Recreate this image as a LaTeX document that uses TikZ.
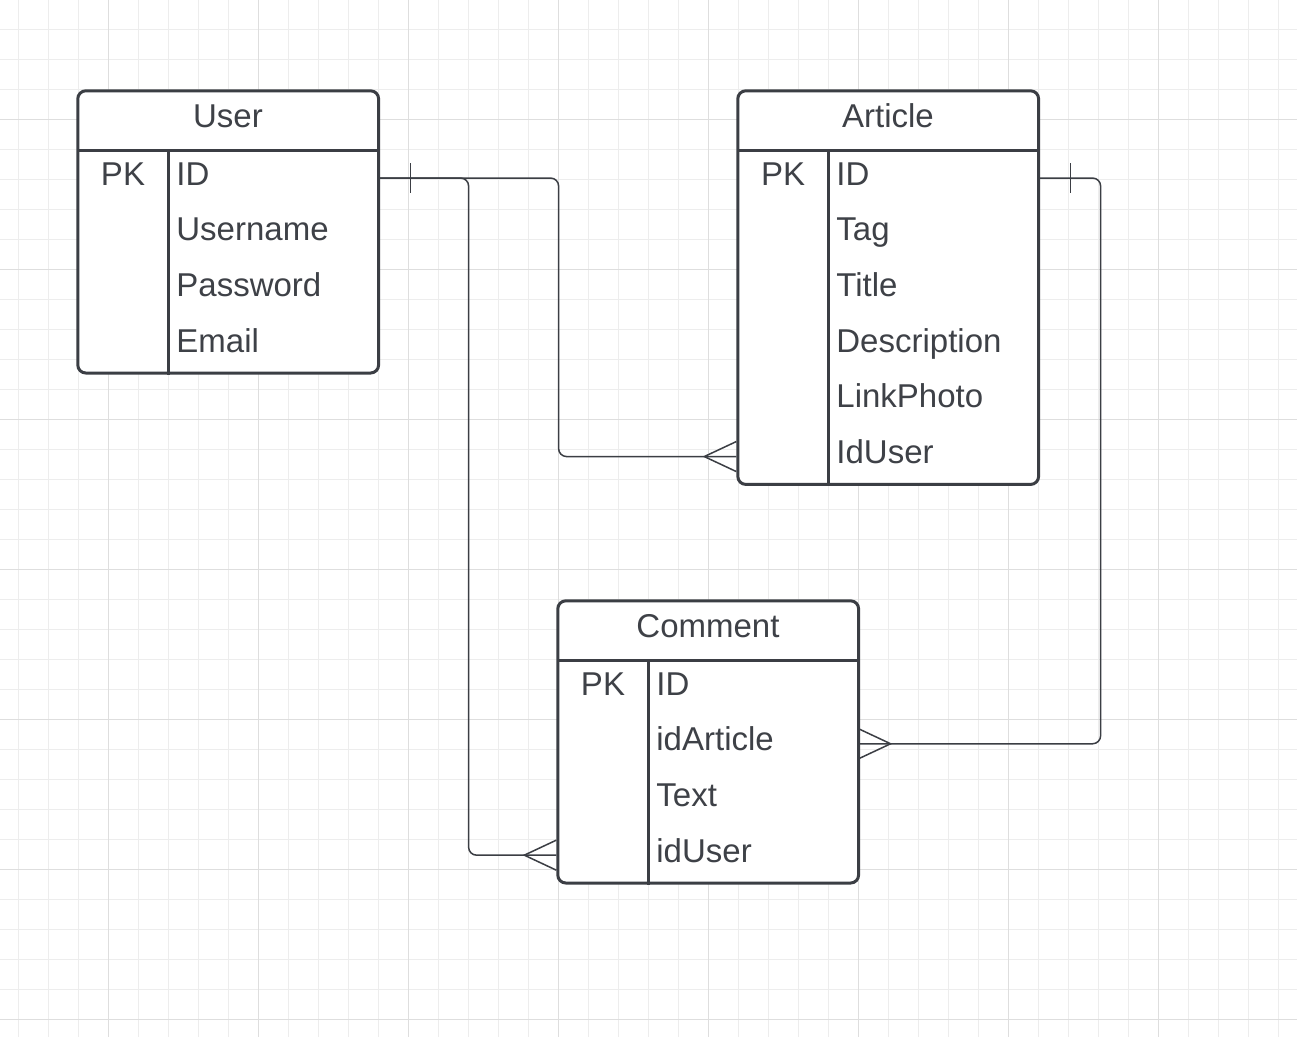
\documentclass[tikz,border=0pt]{standalone}
\usepackage{fontspec}
\setmainfont{Liberation Sans}
\usetikzlibrary{positioning,fit,backgrounds}
\definecolor{erline}{RGB}{59,62,68}
\definecolor{ertext}{RGB}{62,65,71}
\definecolor{gridminor}{RGB}{237,237,237}
\definecolor{gridmajor}{RGB}{222,222,222}

\begin{document}
\begin{tikzpicture}[
  x=1pt,y=-1pt,
  node distance=0pt,
  every node/.style={text=ertext,font=\fontsize{33}{40}\selectfont},
  tablehead/.style={minimum width=300pt,minimum height=59pt,inner sep=0pt,text height=22pt,text depth=8pt},
  keycell/.style={minimum width=90pt,minimum height=55.3pt,inner sep=0pt,text height=22pt,text depth=8pt},
  field/.style={minimum height=55.3pt,text width=194pt,inner xsep=8pt,inner ysep=0pt,align=left,text height=22pt,text depth=8pt},
  tableframe/.style={draw=erline,fill=white,line width=3pt,rounded corners=8pt,inner sep=0pt},
  rule/.style={draw=erline,line width=3pt},
  relation/.style={draw=erline,line width=1.5pt}
]
  \useasboundingbox (0,0) rectangle (1297,1037);

  % User table
  \node[tablehead] (user) at (228,120.5) {User};
  \node[keycell,below right=of user.south west] (userpk) {PK};
  \node[field,right=of userpk] (userid) {ID};
  \node[field,below=of userid] (username) {Username};
  \node[field,below=of username] (userpass) {Password};
  \node[field,below=of userpass] (usermail) {Email};

  % Article table
  \node[tablehead] (article) at (888,120.5) {Article};
  \node[keycell,below right=of article.south west] (artpk) {PK};
  \node[field,right=of artpk] (artid) {ID};
  \node[field,below=of artid] (arttag) {Tag};
  \node[field,below=of arttag] (arttitle) {Title};
  \node[field,below=of arttitle] (artdesc) {Description};
  \node[field,below=of artdesc] (artphoto) {LinkPhoto};
  \node[field,below=of artphoto] (artuser) {IdUser};

  % Comment table
  \node[tablehead] (comment) at (708,630.5) {Comment};
  \node[keycell,below right=of comment.south west] (compk) {PK};
  \node[field,right=of compk] (comid) {ID};
  \node[field,below=of comid] (comart) {idArticle};
  \node[field,below=of comart] (comtext) {Text};
  \node[field,below=of comtext] (comuser) {idUser};

  \begin{scope}[on background layer]
    \fill[white] (0,0) rectangle (1297,1037);
    \foreach \gx in {18,48,...,1288}
      \draw[gridminor,line width=1pt] (\gx,0) -- (\gx,1037);
    \foreach \gy in {29,59,...,1030}
      \draw[gridminor,line width=1pt] (0,\gy) -- (1297,\gy);
    \foreach \gx in {108,258,...,1290}
      \draw[gridmajor,line width=1pt] (\gx,0) -- (\gx,1037);
    \foreach \gy in {119,269,...,1030}
      \draw[gridmajor,line width=1pt] (0,\gy) -- (1297,\gy);
    \node[tableframe,fit=(user)(usermail)] (userframe) {};
    \node[tableframe,fit=(article)(artuser)] (artframe) {};
    \node[tableframe,fit=(comment)(comuser)] (comframe) {};
  \end{scope}

  \draw[rule] (user.south west) -- (user.south east);
  \draw[rule] (userpk.north east) -- (userpk.north east |- userframe.south);
  \draw[rule] (article.south west) -- (article.south east);
  \draw[rule] (artpk.north east) -- (artpk.north east |- artframe.south);
  \draw[rule] (comment.south west) -- (comment.south east);
  \draw[rule] (compk.north east) -- (compk.north east |- comframe.south);

  \coordinate (artin) at (artuser.west -| artframe.west);
  \coordinate (comin) at (comuser.west -| comframe.west);

  % relations
  \draw[relation,rounded corners=8pt] (userid.east) -- ++(180,0) |- (artin);
  \draw[relation,rounded corners=8pt] (userid.east) -- ++(90,0) |- (comin);
  \draw[relation,rounded corners=8pt] (artid.east) -- ++(62,0) |- (comart.east);

  \draw[relation] ([shift={(32,-15)}]userid.east) -- ++(0,30);
  \draw[relation] ([shift={(32,-15)}]artid.east) -- ++(0,30);
  \draw[relation] ([shift={(0,-15)}]artin) -- ++(-32,15) -- ++(32,15);
  \draw[relation] ([shift={(0,-15)}]comin) -- ++(-32,15) -- ++(32,15);
  \draw[relation] ([shift={(0,-15)}]comart.east) -- ++(32,15) -- ++(-32,15);
\end{tikzpicture}
\end{document}
